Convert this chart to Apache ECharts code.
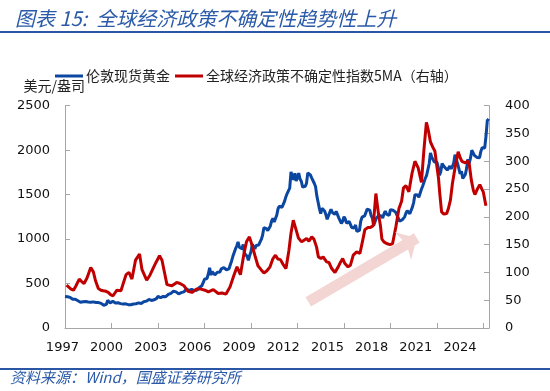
<!DOCTYPE html>
<html><head><meta charset="utf-8">
<script src="https://cdn.jsdelivr.net/npm/echarts@6/dist/echarts.min.js"></script>
<style>html,body{margin:0;padding:0;background:#fff}#c{width:550px;height:391px}</style>
</head><body><div id="c"></div>
<script>
// ---- data ----
var titleText = '图表 15:  全球经济政策不确定性趋势性上升';
var sourceText = '资料来源：Wind，国盛证券研究所';
var seriesNames = ['伦敦现货黄金', '全球经济政策不确定性指数5MA（右轴）'];
var leftAxisName = '美元/盎司';
var xTickYears = [1997, 2000, 2003, 2006, 2009, 2012, 2015, 2018, 2021, 2024];
var goldStart = 1997; // monthly from Jan 1997
var goldValues = [
355,346,352,344,344,341,324,324,323,325,306,289,
289,297,296,308,299,292,293,284,289,296,294,291,
287,287,286,282,277,261,256,257,265,311,293,283,
284,300,286,280,275,285,282,274,273,270,266,272,
266,262,263,261,272,270,268,273,283,283,276,276,
282,296,294,302,314,322,314,310,319,317,319,333,
357,359,340,328,355,356,351,360,379,379,390,407,
414,405,406,404,384,392,398,401,406,420,439,442,
424,423,434,429,422,431,424,438,456,470,476,510,
549,555,557,610,676,596,634,632,598,586,627,629,
631,665,655,679,667,655,665,665,712,754,806,803,
889,922,968,909,888,890,939,839,829,806,760,816,
858,943,924,890,928,946,934,949,996,1043,1127,1135,
1118,1095,1113,1148,1205,1233,1193,1215,1271,1343,1370,1391,
1356,1372,1424,1474,1512,1529,1572,1756,1772,1666,1739,1652,
1656,1742,1674,1650,1585,1596,1594,1626,1744,1747,1722,1688,
1670,1628,1592,1486,1414,1343,1286,1347,1349,1316,1276,1222,
1244,1300,1336,1299,1288,1279,1311,1296,1239,1222,1176,1200,
1251,1227,1179,1198,1199,1181,1131,1117,1125,1159,1086,1068,
1097,1200,1246,1242,1260,1276,1337,1341,1326,1266,1236,1152,
1192,1234,1231,1266,1246,1260,1236,1283,1315,1280,1283,1265,
1331,1331,1325,1335,1303,1282,1238,1202,1199,1215,1221,1250,
1291,1320,1301,1285,1284,1359,1413,1500,1510,1495,1471,1480,
1560,1597,1592,1683,1716,1732,1847,1968,1922,1901,1866,1858,
1867,1808,1718,1760,1850,1834,1807,1785,1776,1777,1821,1790,
1817,1856,1948,1937,1849,1837,1733,1764,1681,1665,1726,1798,
1898,1855,1913,1999,1991,1942,1951,1918,1916,1916,1985,2026,
2034,2024,2159,2331,2351
];
var epuDates = [
1997.10,1997.19,1997.39,1997.55,1997.71,1997.92,1998.06,1998.23,1998.42,1998.66,1998.83,1998.97,
1999.15,1999.32,1999.47,1999.65,1999.79,1999.94,2000.10,2000.35,2000.61,2000.94,2001.13,2001.32,
2001.55,2001.81,2001.97,2002.27,2002.48,2002.70,2002.87,2003.10,2003.26,2003.42,2003.58,2003.90,
2004.21,2004.42,2004.68,2004.94,2005.19,2005.50,2005.77,2006.03,2006.25,2006.57,2006.89,2007.13,
2007.39,2007.65,2007.90,2008.10,2008.32,2008.55,2008.71,2008.90,2009.06,2009.26,2009.45,2009.65,
2009.84,2010.03,2010.23,2010.42,2010.58,2010.74,2010.90,2011.06,2011.26,2011.45,2011.58,2011.73,
2011.90,2012.06,2012.27,2012.42,2012.59,2012.74,2012.92,2013.06,2013.23,2013.35,2013.52,2013.66,
2013.88,2014.03,2014.21,2014.42,2014.63,2014.77,2014.92,2015.06,2015.26,2015.42,2015.60,2015.82,
2016.03,2016.19,2016.35,2016.55,2016.71,2016.89,2017.06,2017.23,2017.35,2017.45,2017.58,2017.75,
2017.97,2018.14,2018.35,2018.55,2018.72,2018.84,2019.00,2019.19,2019.39,2019.58,2019.79,2020.00,
2020.16,2020.32,2020.45,2020.58,2020.74,2020.87,2021.00,2021.10,2021.19,2021.30,2021.45,2021.63,
2021.74,2021.87,2022.00,2022.16,2022.37,2022.52,2022.61,2022.84,2022.97,2023.08,2023.22,2023.35,
2023.45,2023.61,2023.77,2023.90,2023.99,2024.16
];
var epuValues = [
77,76,70,68,76,88,84,80,90,109,101,85,
71,68,67,66,64,60,58,68,67,96,100,88,
122,133,105,86,95,108,118,130,122,100,78,76,
82,80,76,66,64,70,70,68,65,69,62,63,
61,74,95,110,96,134,155,164,150,130,112,105,
99,103,110,125,131,124,123,115,107,140,170,194,
178,162,155,158,161,156,164,160,146,128,125,128,
119,118,107,100,110,118,125,116,110,113,131,137,
134,155,177,181,181,184,242,205,185,160,155,152,
150,152,182,215,228,252,256,245,278,300,288,262,
320,370,355,335,325,318,290,270,240,209,205,206,
215,230,260,287,317,305,300,297,300,296,266,248,
240,250,258,250,245,220
];
var trendArrow = [[2012.7, 47], [2019.7, 162]]; // [year, right-axis value]

// ---- chart ----
var base = 1997;
var goldData = goldValues.map(function (v, i) { return [i / 12, v]; });
var epuData = epuDates.map(function (d, i) { return [d - base, epuValues[i]]; });
var axisGray = '#a6a6a6';
var numFont = 'DejaVu Sans';
var cjk = 'Noto Sans CJK SC';
var plain = function (v) { return String(v); };
var chart = echarts.init(document.getElementById('c'), null, {renderer: 'canvas'});
chart.setOption({
  animation: false,
  backgroundColor: '#fff',
  title: {
    text: titleText, left: 10, top: 3,
    textStyle: {fontFamily: cjk, fontSize: 20, fontStyle: 'italic', fontWeight: 'normal', color: '#2a5aa8'}
  },
  graphic: [
    {type: 'rect', left: 0, top: 31, shape: {width: 550, height: 2}, style: {fill: '#2b55a5'}},
    {type: 'rect', left: 0, top: 368, shape: {width: 550, height: 2}, style: {fill: '#2b55a5'}},
    {type: 'text', left: 10, top: 370, style: {text: sourceText, font: 'italic 15px "Noto Sans CJK SC"', fill: '#2a5aa8'}}
  ],
  legend: {
    left: 50, top: 64, itemWidth: 28, itemHeight: 3, itemGap: 5,
    icon: 'rect',
    textStyle: {fontFamily: cjk, fontSize: 14, color: '#222', padding: [0, 0, 0, -2]},
    data: seriesNames
  },
  grid: [
    {left: 65, right: 61, top: 105.7, bottom: 63},
    {left: 62.4, right: 90, top: 105.7, bottom: 63}
  ],
  xAxis: [
    {type: 'value', gridIndex: 0, min: 0, max: 27.36, interval: 3,
     axisLine: {lineStyle: {color: axisGray, width: 1}},
     axisTick: {inside: true, length: 5, lineStyle: {color: axisGray}},
     axisLabel: {show: false}, splitLine: {show: false}},
    {type: 'value', gridIndex: 1, min: 0, max: 27, interval: 3,
     axisLine: {show: false}, axisTick: {show: false}, splitLine: {show: false},
     axisLabel: {margin: 13, fontFamily: numFont, fontSize: 13, color: '#111',
       formatter: function (v) { var y = base + v; return xTickYears.indexOf(y) >= 0 ? String(y) : ''; }}}
  ],
  yAxis: [
    {type: 'value', gridIndex: 0, min: 0, max: 2500, interval: 500, position: 'left',
     name: leftAxisName, nameLocation: 'end', nameGap: 13,
     nameTextStyle: {fontFamily: cjk, fontSize: 14, color: '#222', align: 'right', padding: [0, -20, 0, 0]},
     axisLine: {show: true, lineStyle: {color: axisGray}},
     axisTick: {show: true, inside: true, length: 5, lineStyle: {color: axisGray}},
     axisLabel: {margin: 15, fontFamily: numFont, fontSize: 13, color: '#111', formatter: plain},
     splitLine: {show: false}},
    {type: 'value', gridIndex: 0, min: 0, max: 400, interval: 50, position: 'right',
     axisLine: {show: true, lineStyle: {color: axisGray}},
     axisTick: {show: true, inside: true, length: 5, lineStyle: {color: axisGray}},
     axisLabel: {margin: 16, fontFamily: numFont, fontSize: 13, color: '#111', formatter: plain},
     splitLine: {show: false}},
    {type: 'value', gridIndex: 1, show: false, min: 0, max: 1}
  ],
  series: [
    {name: seriesNames[0], type: 'line', xAxisIndex: 0, yAxisIndex: 0, data: goldData,
     showSymbol: false, symbol: 'none', color: '#0b46a0', lineStyle: {width: 3, color: '#0b46a0'}},
    {name: seriesNames[1], type: 'line', xAxisIndex: 0, yAxisIndex: 1, data: epuData,
     showSymbol: false, symbol: 'none', color: '#c00000', lineStyle: {width: 3, color: '#c00000'},
     markLine: {silent: true, symbol: ['none', 'arrow'], symbolSize: [24, 16],
       label: {show: false},
       lineStyle: {type: 'solid', width: 11, color: '#f3d6d3', opacity: 1, cap: 'butt'},
       data: [[{coord: [trendArrow[0][0] - base, trendArrow[0][1]]}, {coord: [trendArrow[1][0] - base, trendArrow[1][1]]}]]}}
  ]
});
</script></body></html>
